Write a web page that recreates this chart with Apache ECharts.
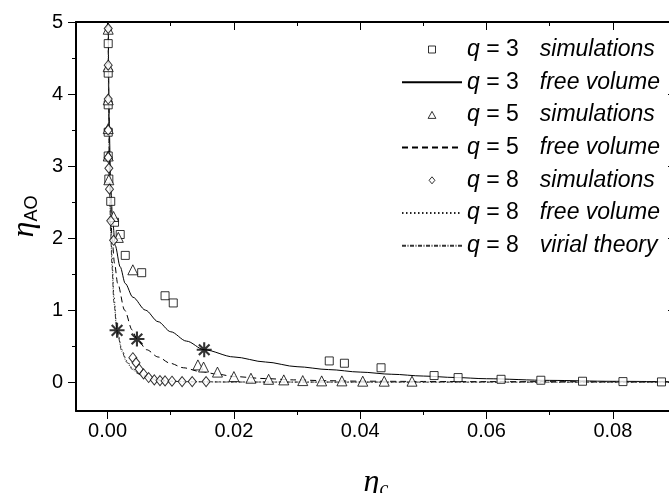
<!DOCTYPE html>
<html>
<head>
<meta charset="utf-8">
<script src="https://cdn.jsdelivr.net/npm/echarts@6/dist/echarts.min.js"></script>
<style>
  html, body { margin: 0; padding: 0; background: #fff; }
  #chart { width: 669px; height: 493px; }
</style>
</head>
<body>
<div id="chart"></div>
<script>
// tick positions
const xTicks = [0, 0.02, 0.04, 0.06, 0.08];
const xMinor = [0.01, 0.03, 0.05, 0.07, 0.09];
const yTicks = [0, 1, 2, 3, 4, 5];
const yMinor = [0.5, 1.5, 2.5, 3.5, 4.5];

// simulation points [eta_c, eta_AO]
const q3Sim = [[0.0001, 4.70], [0.0001, 4.29], [0.0001, 3.85], [0.0001, 3.47], [0.0001, 3.14], [0.0002, 2.82], [0.0005, 2.51], [0.0011, 2.22], [0.0020, 2.05], [0.0028, 1.76], [0.0054, 1.52], [0.0091, 1.20], [0.0104, 1.10], [0.0351, 0.295], [0.0375, 0.263], [0.0433, 0.20], [0.0517, 0.092], [0.0555, 0.064], [0.0623, 0.04], [0.0686, 0.027], [0.0752, 0.013], [0.0816, 0.008], [0.0877, 0.004]];
const q5Sim = [[0.0001, 4.90], [0.0001, 4.38], [0.0001, 3.92], [0.0001, 3.52], [0.0001, 3.14], [0.0002, 2.81], [0.00095, 2.30], [0.0017, 2.01], [0.0040, 1.56], [0.0143, 0.24], [0.0152, 0.21], [0.0174, 0.14], [0.0200, 0.078], [0.0227, 0.055], [0.0255, 0.04], [0.0279, 0.032], [0.0309, 0.022], [0.0339, 0.018], [0.0371, 0.018], [0.0404, 0.014], [0.0438, 0.014], [0.0482, 0.014]];
const q8Sim = [[0.0001, 4.91], [0.0001, 4.40], [0.0001, 3.93], [0.0001, 3.50], [0.0001, 3.12], [0.0002, 2.97], [0.0003, 2.68], [0.0005, 2.24], [0.00095, 1.97], [0.0040, 0.34], [0.0045, 0.27], [0.0050, 0.18], [0.0057, 0.115], [0.0065, 0.064], [0.0074, 0.032], [0.0083, 0.022], [0.0091, 0.018], [0.0102, 0.014], [0.0118, 0.008], [0.0134, 0.008], [0.0156, 0.008]];

// theory curves
const q3Free = [[0.0001, 5.2], [0.00025, 3.6], [0.0005, 2.7], [0.0008, 2.25], [0.0012, 1.9], [0.002, 1.6], [0.0028, 1.37], [0.004, 1.18], [0.006, 1.0], [0.008, 0.84], [0.010, 0.70], [0.0125, 0.57], [0.0153, 0.45], [0.020, 0.35], [0.025, 0.28], [0.030, 0.215], [0.035, 0.175], [0.040, 0.14], [0.045, 0.11], [0.050, 0.085], [0.055, 0.065], [0.060, 0.048], [0.070, 0.025], [0.080, 0.012], [0.090, 0.006]];
const q5Free = [[0.0001, 5.2], [0.0002, 3.9], [0.0004, 2.7], [0.0007, 2.0], [0.0011, 1.65], [0.0016, 1.37], [0.0027, 1.0], [0.0039, 0.725], [0.00465, 0.60], [0.0062, 0.45], [0.008, 0.35], [0.0099, 0.263], [0.012, 0.20], [0.0147, 0.147], [0.0175, 0.11], [0.020, 0.078], [0.025, 0.05], [0.0294, 0.032], [0.035, 0.02], [0.04, 0.014], [0.05, 0.01], [0.06, 0.008], [0.09, 0.005]];
const q8Free = [[0.0001, 5.0], [0.0002, 3.6], [0.0003, 2.9], [0.0005, 2.2], [0.0007, 1.75], [0.001, 1.2], [0.0015, 0.72], [0.0023, 0.45], [0.003, 0.3], [0.0039, 0.2], [0.0048, 0.14], [0.0057, 0.1], [0.007, 0.055], [0.0083, 0.03], [0.01, 0.015], [0.013, 0.007], [0.02, 0.003], [0.03, 0.001], [0.09, 0]];
const q8Virial = [[0.0001, 4.6], [0.0003, 2.7], [0.0005, 2.05], [0.0007, 1.6], [0.001, 1.1], [0.0015, 0.7], [0.0023, 0.42], [0.003, 0.28], [0.0039, 0.18], [0.0048, 0.12], [0.0057, 0.085], [0.007, 0.045], [0.0083, 0.025], [0.01, 0.012], [0.013, 0.005], [0.02, 0.002], [0.09, 0]];
// asterisks on the curves
const crossPoints = [[0.0015, 0.72], [0.00465, 0.60], [0.0153, 0.45]];

const legendNames = ['q3 sim', 'q3 free', 'q5 sim', 'q5 free', 'q8 sim', 'q8 free', 'q8 virial'];
const legendLabels = {
  'q3 sim': ['3', 'simulations'],
  'q3 free': ['3', 'free volume'],
  'q5 sim': ['5', 'simulations'],
  'q5 free': ['5', 'free volume'],
  'q8 sim': ['8', 'simulations'],
  'q8 free': ['8', 'free volume'],
  'q8 virial': ['8', 'virial theory']
};
const legendIcons = {
  'q3 sim': 'path://M0,0h10v10h-10z',
  'q5 sim': 'path://M5,0L10,9L0,9z',
  'q8 sim': 'path://M5,0L10,6L5,12L0,6z'
};

// thick 8-spoke asterisk
const asterisk = 'path://M8.6,0h2.8v20h-2.8z M0,8.6h20v2.8h-20z M3.9,1.9L18.1,16.1L16.1,18.1L1.9,3.9z M16.1,1.9L18.1,3.9L3.9,18.1L1.9,16.1z';

const chart = echarts.init(document.getElementById('chart'));
const font = 'Liberation Sans, Arial, sans-serif';
const hollow = { color: '#fff', borderColor: '#000', borderWidth: 1 };

function xAx(pos, vals, len, opts) {
  return Object.assign({
    type: 'value', position: pos, min: -0.005, max: 0.09,
    splitLine: { show: false },
    axisLine: { show: false, onZero: false },
    axisTick: { show: true, inside: pos === 'top', length: len, customValues: vals, lineStyle: { color: '#000', width: 1 } },
    axisLabel: { show: false }
  }, opts || {});
}
function yAx(pos, vals, len, opts) {
  return Object.assign({
    type: 'value', position: pos, min: -0.4, max: 5,
    splitLine: { show: false },
    axisLine: { show: false, onZero: false },
    axisTick: { show: true, inside: pos === 'right', length: len, customValues: vals, lineStyle: { color: '#000', width: 1 } },
    axisLabel: { show: false }
  }, opts || {});
}

const option = {
  animation: false,
  backgroundColor: '#fff',
  grid: { left: 76, top: 22, right: -7, bottom: 82, containLabel: false, outerBoundsMode: 'none' },
  legend: {
    data: legendNames.map(function (n) {
      if (legendIcons[n]) return { name: n, icon: legendIcons[n], itemStyle: hollow };
      return { name: n, itemStyle: { opacity: 0 } };
    }),
    orient: 'vertical',
    left: 401,
    top: 38,
    padding: 0,
    itemWidth: 60,
    itemHeight: 7,
    itemGap: 9.7,
    symbolKeepAspect: true,
    selectedMode: false,
    formatter: function (name) {
      const p = legendLabels[name];
      return '{q|q}{n| = ' + p[0] + '}{s|' + p[1] + '}';
    },
    textStyle: {
      fontFamily: font, fontSize: 23, color: '#000', lineHeight: 22,
      rich: {
        q: { fontFamily: font, fontSize: 23, fontStyle: 'italic', lineHeight: 22 },
        n: { fontFamily: font, fontSize: 23, width: 60, lineHeight: 22 },
        s: { fontFamily: font, fontSize: 23, fontStyle: 'italic', lineHeight: 22 }
      }
    }
  },
  xAxis: [
    xAx('bottom', xTicks, 8, {
      axisLine: { show: true, onZero: false, lineStyle: { color: '#000', width: 2 } },
      axisLabel: {
        show: true, customValues: xTicks, margin: 10, fontFamily: font, fontSize: 20, color: '#000',
        formatter: function (v) { return v.toFixed(2); }
      },
      name: '{e|η}{c|c}',
      nameLocation: 'middle',
      nameGap: 55,
      nameTextStyle: {
        rich: {
          e: { fontFamily: 'Liberation Serif', fontStyle: 'italic', fontSize: 32, color: '#000' },
          c: { fontFamily: 'Liberation Serif', fontStyle: 'italic', fontSize: 20, color: '#000', padding: [14, 0, 0, 0] }
        }
      }
    }),
    xAx('bottom', xMinor, 4),
    xAx('top', xTicks, 8, { axisLine: { show: true, onZero: false, lineStyle: { color: '#000', width: 2 } } }),
    xAx('top', xMinor, 4)
  ],
  yAxis: [
    yAx('left', yTicks, 8, {
      axisLine: { show: true, onZero: false, lineStyle: { color: '#000', width: 2 } },
      axisLabel: { show: true, customValues: yTicks, margin: 13, fontFamily: font, fontSize: 20, color: '#000' },
      name: '{e|η}{s|AO}',
      nameLocation: 'middle',
      nameRotate: 90,
      nameGap: 32,
      nameTextStyle: {
        rich: {
          e: { fontFamily: 'Liberation Serif', fontStyle: 'italic', fontSize: 32, color: '#000' },
          s: { fontFamily: font, fontSize: 18, color: '#000', padding: [14, 0, 0, 0] }
        }
      }
    }),
    yAx('left', yMinor, 4),
    yAx('right', yTicks, 8, { axisLine: { show: true, onZero: false, lineStyle: { color: '#000', width: 2 } } }),
    yAx('right', yMinor, 4)
  ],
  series: [
    {
      name: 'q3 free', type: 'line', data: q3Free, symbol: 'none', smooth: 0.3, smoothMonotone: 'x',
      lineStyle: { color: '#000', width: 1, type: 'solid' }, z: 2
    },
    {
      name: 'q5 free', type: 'line', data: q5Free, symbol: 'none', smooth: 0.3, smoothMonotone: 'x',
      lineStyle: { color: '#000', width: 1, type: [6, 4] }, z: 2
    },
    {
      name: 'q8 free', type: 'line', data: q8Free, symbol: 'none', smooth: 0.3, smoothMonotone: 'x',
      lineStyle: { color: '#222', width: 1, type: [1.5, 2.5] }, z: 2
    },
    {
      name: 'q8 virial', type: 'line', data: q8Virial, symbol: 'none', smooth: 0.3, smoothMonotone: 'x',
      lineStyle: { color: '#333', width: 1, type: [4, 1.5, 1, 1.5] }, z: 2
    },
    {
      name: 'q3 sim', type: 'scatter', data: q3Sim, symbol: 'rect', symbolSize: 8, itemStyle: hollow, z: 3
    },
    {
      name: 'q5 sim', type: 'scatter', data: q5Sim, symbol: 'triangle', symbolSize: 10, itemStyle: hollow, z: 3
    },
    {
      name: 'q8 sim', type: 'scatter', data: q8Sim, symbol: 'diamond', symbolSize: [8, 10], itemStyle: hollow, z: 3
    },
    {
      name: 'crossover', type: 'scatter', data: crossPoints, symbol: asterisk, symbolSize: 15,
      itemStyle: { color: '#000' }, z: 4
    }
  ]
};

chart.setOption(option);
</script>
</body>
</html>
